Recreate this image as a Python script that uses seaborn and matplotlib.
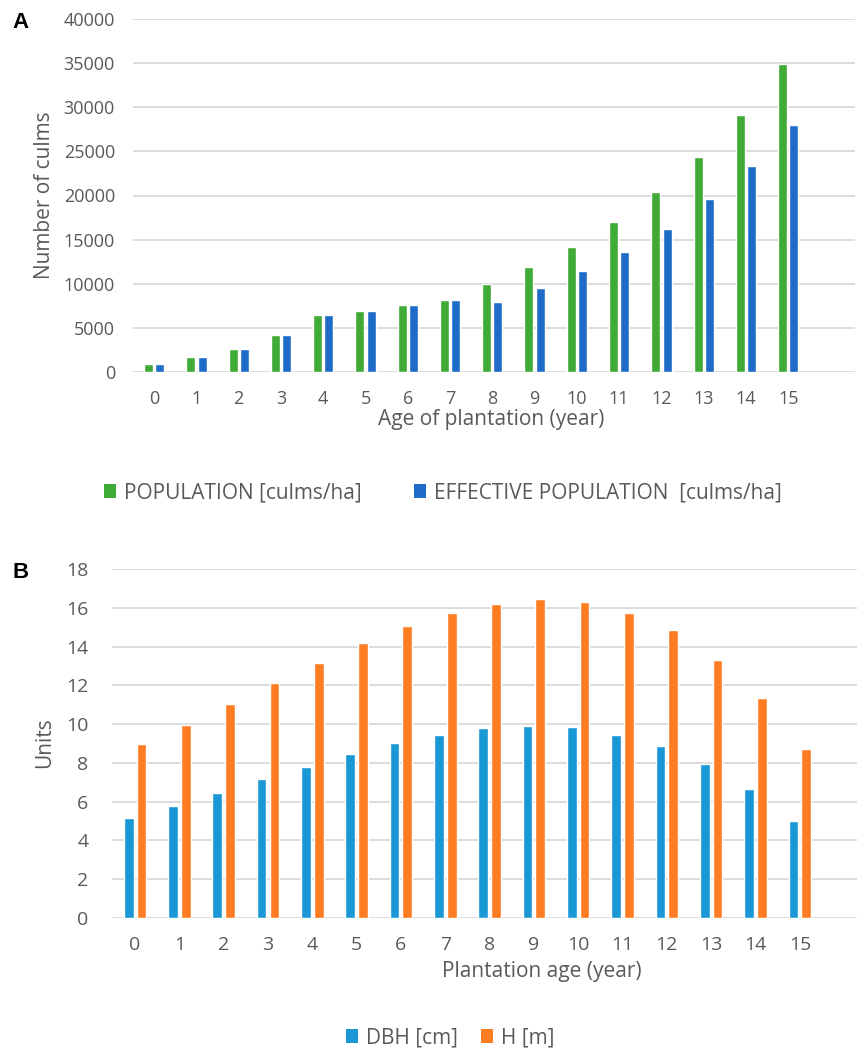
import matplotlib
matplotlib.use("Agg")
import matplotlib.pyplot as plt
import seaborn as sns
import pandas as pd
from matplotlib.patches import Patch

# ---------------- data ----------------
ages = list(range(16))
population = [900, 1700, 2550, 4200, 6450, 6950, 7550, 8200, 9950, 11850,
              14200, 17050, 20350, 24400, 29100, 34900]
effective_population = [900, 1700, 2550, 4200, 6450, 6950, 7550, 8200, 7950, 9550,
                        11400, 13650, 16250, 19550, 23350, 27950]
dbh = [5.15, 5.77, 6.46, 7.16, 7.80, 8.45, 9.02, 9.45, 9.78, 9.88,
       9.83, 9.45, 8.87, 7.96, 6.67, 5.02]
height = [8.99, 9.95, 11.03, 12.10, 13.16, 14.18, 15.04, 15.72, 16.22, 16.44,
          16.29, 15.72, 14.83, 13.32, 11.34, 8.71]
series_a = ["POPULATION [culms/ha]", "EFFECTIVE POPULATION  [culms/ha]"]
series_b = ["DBH [cm]", "H [m]"]
yticks_a = [0, 5000, 10000, 15000, 20000, 25000, 30000, 35000, 40000]
yticks_b = [0, 2, 4, 6, 8, 10, 12, 14, 16, 18]

colors_a = ["#3FAA36", "#1F6CC8"]
colors_b = ["#1A98D6", "#FF7D22"]

sns.set_theme(style="white")
plt.rcParams["font.family"] = ["Open Sans", "DejaVu Sans"]

TXT = "#595959"
GRID = "#D9D9D9"

df_a = pd.DataFrame({
    "age": ages * 2,
    "value": population + effective_population,
    "series": [series_a[0]] * 16 + [series_a[1]] * 16,
})
df_b = pd.DataFrame({
    "age": ages * 2,
    "value": dbh + height,
    "series": [series_b[0]] * 16 + [series_b[1]] * 16,
})

W, H = 857, 1051
fig = plt.figure(figsize=(W / 100, H / 100), dpi=100)
ax_a = fig.add_axes([133 / W, 1 - 372 / H, 722 / W, 353 / H])
ax_b = fig.add_axes([112 / W, 1 - 918 / H, 745 / W, 349 / H])


def style(ax, yticks, xlim, fs):
    ax.set_ylim(yticks[0], yticks[-1])
    ax.set_yticks(yticks)
    ax.set_yticklabels([str(t) for t in yticks])
    ax.set_xlim(*xlim)
    for s in ax.spines.values():
        s.set_visible(False)
    ax.grid(axis="y", color=GRID, lw=1.3)
    ax.grid(axis="x", visible=False)
    ax.set_axisbelow(True)
    ax.tick_params(axis="both", length=0, colors=TXT, labelsize=fs)
    ax.set_xlabel("")
    ax.set_ylabel("")


sns.barplot(data=df_a, x="age", y="value", hue="series", palette=colors_a,
            width=0.534, gap=0.2, ax=ax_a, legend=False, saturation=1,
            order=ages, hue_order=series_a)
style(ax_a, yticks_a, (-0.5, 16.58), 13)
ax_a.tick_params(axis="y", pad=13)
ax_a.tick_params(axis="x", pad=13)

sns.barplot(data=df_b, x="age", y="value", hue="series", palette=colors_b,
            width=0.576, gap=0.236, ax=ax_b, legend=False, saturation=1,
            order=ages, hue_order=series_b)
style(ax_b, yticks_b, (-0.52, 16.29), 14)
ax_b.tick_params(axis="y", pad=17)
ax_b.tick_params(axis="x", pad=13)

# axis titles
fig.text(491 / W, 1 - 419 / H, "Age of plantation (year)", fontsize=15, color=TXT,
         ha="center", va="center")
fig.text(45 / W, 1 - 195 / H, "Number of culms", fontsize=15, color=TXT,
         ha="center", va="center", rotation=90)
fig.text(542 / W, 1 - 972 / H, "Plantation age (year)", fontsize=15, color=TXT,
         ha="center", va="center")
fig.text(45 / W, 1 - 743 / H, "Units", fontsize=15, color=TXT,
         ha="center", va="center", rotation=90)

# legends
h_a = [Patch(facecolor=c, edgecolor="none") for c in colors_a]
leg_a = fig.legend(h_a, series_a, loc="center", bbox_to_anchor=(443 / W, 1 - 493 / H),
                   ncol=2, frameon=False, handlelength=0.58, handleheight=0.65,
                   handletextpad=0.38, columnspacing=2.5,
                   prop={"size": 15})
for t in leg_a.get_texts():
    t.set_color(TXT)
h_b = [Patch(facecolor=c, edgecolor="none") for c in colors_b]
leg_b = fig.legend(h_b, series_b, loc="center", bbox_to_anchor=(450 / W, 1 - 1038 / H),
                   ncol=2, frameon=False, handlelength=0.58, handleheight=0.65,
                   handletextpad=0.38, columnspacing=1.1,
                   prop={"size": 15})
for t in leg_b.get_texts():
    t.set_color(TXT)

fig.text(12 / W, 1 - 23 / H, "A", fontsize=16, fontweight="bold",
         family=["Liberation Sans", "DejaVu Sans"], va="center", ha="left", color="black")
fig.text(12 / W, 1 - 573 / H, "B", fontsize=16, fontweight="bold",
         family=["Liberation Sans", "DejaVu Sans"], va="center", ha="left", color="black")

fig.savefig("out.png", dpi=100, facecolor="white")
